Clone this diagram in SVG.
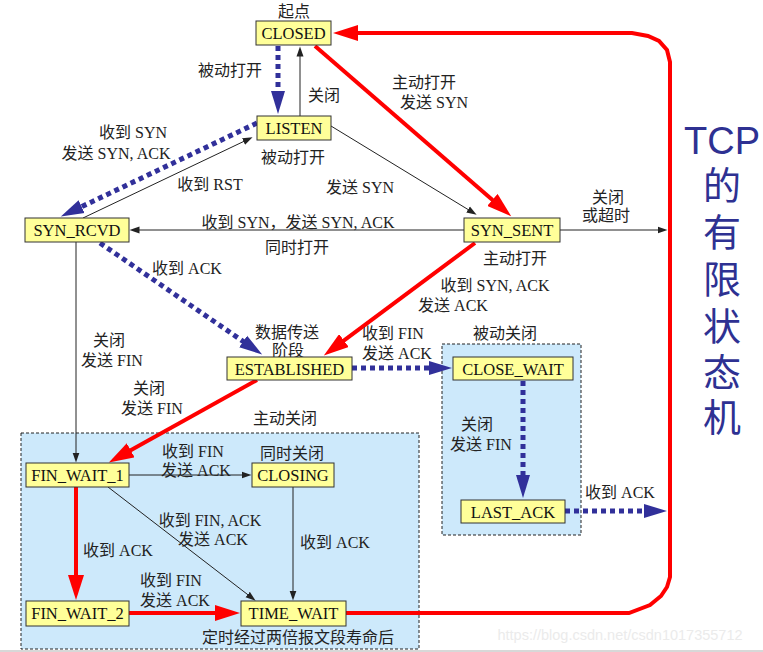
<svg xmlns="http://www.w3.org/2000/svg" width="763" height="652" viewBox="0 0 763 652">
<style>
.node rect{fill:#ffff99;stroke:#333;stroke-width:1}
.node text{font-family:"Liberation Serif","Noto Sans CJK SC",serif;font-size:16.5px;fill:#111;text-anchor:middle}
.lbl{font-family:"Liberation Serif","Noto Sans CJK SC",serif;font-size:16px;fill:#222;text-anchor:middle}
.region{fill:#cde9fb;stroke:#222;stroke-width:1;stroke-dasharray:3 2}
.thin{stroke:#222;stroke-width:1;fill:none;marker-end:url(#ah-thin)}
.red{stroke:#f00;stroke-width:4;fill:none;marker-end:url(#ah-red)}
.blue{stroke:#31309a;stroke-width:5;fill:none;stroke-dasharray:5 4;marker-end:url(#ah-blue)}
.title{font-family:"Liberation Sans","Noto Sans CJK SC",sans-serif;fill:#2e3192;text-anchor:middle;font-size:38px}
</style>
<defs>
<marker id="ah-thin" markerUnits="userSpaceOnUse" markerWidth="12" markerHeight="8" refX="0.5" refY="4" orient="auto"><path d="M0,0.5 L10,4 L0,7.5 z" fill="#222"/></marker>
<marker id="ah-red" markerUnits="userSpaceOnUse" markerWidth="26" markerHeight="16" refX="1" refY="8" orient="auto"><path d="M0,0 L25,8 L0,16 z" fill="#f00"/></marker>
<marker id="ah-blue" markerUnits="userSpaceOnUse" markerWidth="24" markerHeight="16" refX="1" refY="8" orient="auto"><path d="M0,1 L23,8 L0,15 z" fill="#31309a"/></marker>
</defs>
<rect width="763" height="652" fill="#fff"/>
<g id="regions">
<rect class="region" x="21" y="433" width="398" height="216"/>
<rect class="region" x="442" y="344" width="139" height="191"/>
</g>
<g id="connectors">
<line class="blue" x1="278" y1="46" x2="278" y2="92"/>
<line class="thin" x1="300" y1="116" x2="300" y2="56"/>
<line class="red" x1="315" y1="46" x2="493.1" y2="200.6"/>
<line class="blue" x1="257" y1="123" x2="80.7" y2="207.1"/>
<line class="thin" x1="83" y1="218" x2="244" y2="141.3"/>
<line class="thin" x1="331" y1="126" x2="468.5" y2="209.8"/>
<line class="thin" x1="464" y1="230" x2="139" y2="230"/>
<line class="thin" x1="560" y1="230" x2="658" y2="230"/>
<line class="red" x1="475" y1="243" x2="343.1" y2="341.1"/>
<line class="blue" x1="100" y1="243" x2="244" y2="342"/>
<line class="thin" x1="76" y1="242" x2="76" y2="453"/>
<line class="red" x1="257" y1="380" x2="129.8" y2="450.8"/>
<line class="blue" x1="352" y1="368" x2="430" y2="368"/>
<line class="blue" x1="523" y1="381" x2="523" y2="476"/>
<line class="blue" x1="565" y1="511" x2="645" y2="511"/>
<line class="thin" x1="129" y1="475" x2="242" y2="475"/>
<line class="thin" x1="108" y1="487" x2="248.1" y2="594.9"/>
<line class="thin" x1="293" y1="487" x2="293" y2="591"/>
<line class="red" x1="76" y1="487" x2="76" y2="576"/>
<line class="red" x1="129" y1="613" x2="216" y2="613"/>
<path class="red" d="M346,613 L629,613 L650,605 L661,596 L667,587 L670,577 L670,62 L667,50 L659,41 L648,36 L632,33 L357,33"/>
</g>
<g id="labels">
<text class="lbl" x="294" y="17">起点</text>
<text class="lbl" x="230" y="76">被动打开</text>
<text class="lbl" x="324" y="101">关闭</text>
<text class="lbl" x="424" y="88">主动打开</text>
<text class="lbl" x="434" y="108">发送 SYN</text>
<text class="lbl" x="133" y="138">收到 SYN</text>
<text class="lbl" x="116" y="159">发送 SYN, ACK</text>
<text class="lbl" x="293" y="163">被动打开</text>
<text class="lbl" x="210" y="190">收到 RST</text>
<text class="lbl" x="360" y="193">发送 SYN</text>
<text class="lbl" x="298" y="228">收到 SYN，发送 SYN, ACK</text>
<text class="lbl" x="297" y="253">同时打开</text>
<text class="lbl" x="608" y="203">关闭</text>
<text class="lbl" x="606" y="221">或超时</text>
<text class="lbl" x="515" y="264">主动打开</text>
<text class="lbl" x="495" y="291">收到 SYN, ACK</text>
<text class="lbl" x="453" y="311">发送 ACK</text>
<text class="lbl" x="187" y="274">收到 ACK</text>
<text class="lbl" x="287" y="338">数据传送</text>
<text class="lbl" x="288" y="356">阶段</text>
<text class="lbl" x="109" y="346">关闭</text>
<text class="lbl" x="112" y="366">发送 FIN</text>
<text class="lbl" x="393" y="339">收到 FIN</text>
<text class="lbl" x="397" y="359">发送 ACK</text>
<text class="lbl" x="505" y="339">被动关闭</text>
<text class="lbl" x="149" y="394">关闭</text>
<text class="lbl" x="152" y="414">发送 FIN</text>
<text class="lbl" x="285" y="424">主动关闭</text>
<text class="lbl" x="477" y="430">关闭</text>
<text class="lbl" x="481" y="450">发送 FIN</text>
<text class="lbl" x="193" y="457">收到 FIN</text>
<text class="lbl" x="196" y="476">发送 ACK</text>
<text class="lbl" x="292" y="459">同时关闭</text>
<text class="lbl" x="620" y="498">收到 ACK</text>
<text class="lbl" x="210" y="526">收到 FIN, ACK</text>
<text class="lbl" x="213" y="545">发送 ACK</text>
<text class="lbl" x="335" y="548">收到 ACK</text>
<text class="lbl" x="118" y="556">收到 ACK</text>
<text class="lbl" x="171" y="586">收到 FIN</text>
<text class="lbl" x="175" y="606">发送 ACK</text>
<text class="lbl" x="298" y="643">定时经过两倍报文段寿命后</text>
</g>
<g id="CLOSED" class="node"><rect x="256" y="21" width="75" height="24"/><text x="293.5" y="39">CLOSED</text></g>
<g id="LISTEN" class="node"><rect x="257" y="116" width="74" height="24"/><text x="294" y="134">LISTEN</text></g>
<g id="SYN_RCVD" class="node"><rect x="25" y="218" width="104" height="24"/><text x="77" y="236">SYN_RCVD</text></g>
<g id="SYN_SENT" class="node"><rect x="464" y="218" width="96" height="24"/><text x="512" y="236">SYN_SENT</text></g>
<g id="ESTABLISHED" class="node"><rect x="227" y="357" width="125" height="23"/><text x="289.5" y="374.5">ESTABLISHED</text></g>
<g id="CLOSE_WAIT" class="node"><rect x="453" y="357" width="120" height="23"/><text x="513" y="374.5">CLOSE_WAIT</text></g>
<g id="LAST_ACK" class="node"><rect x="461" y="500" width="104" height="23"/><text x="513" y="517.5">LAST_ACK</text></g>
<g id="FIN_WAIT_1" class="node"><rect x="26" y="463" width="103" height="24"/><text x="77.5" y="481">FIN_WAIT_1</text></g>
<g id="CLOSING" class="node"><rect x="252" y="463" width="82" height="24"/><text x="293" y="481">CLOSING</text></g>
<g id="FIN_WAIT_2" class="node"><rect x="26" y="601" width="103" height="25"/><text x="77.5" y="619">FIN_WAIT_2</text></g>
<g id="TIME_WAIT" class="node"><rect x="241" y="601" width="105" height="25"/><text x="293.5" y="619">TIME_WAIT</text></g>
<g id="title">
<text class="title" x="722" y="154">TCP</text>
<text class="title" x="722" y="199">的</text>
<text class="title" x="722" y="246">有</text>
<text class="title" x="722" y="293">限</text>
<text class="title" x="722" y="340">状</text>
<text class="title" x="722" y="386">态</text>
<text class="title" x="722" y="431">机</text>
</g>
<text x="620" y="640" font-family="Liberation Sans, sans-serif" font-size="14.5" fill="#ebebeb" text-anchor="middle">https://blog.csdn.net/csdn1017355712</text>
<rect x="0" y="650" width="763" height="2" fill="#d8d8d8"/>
</svg>
